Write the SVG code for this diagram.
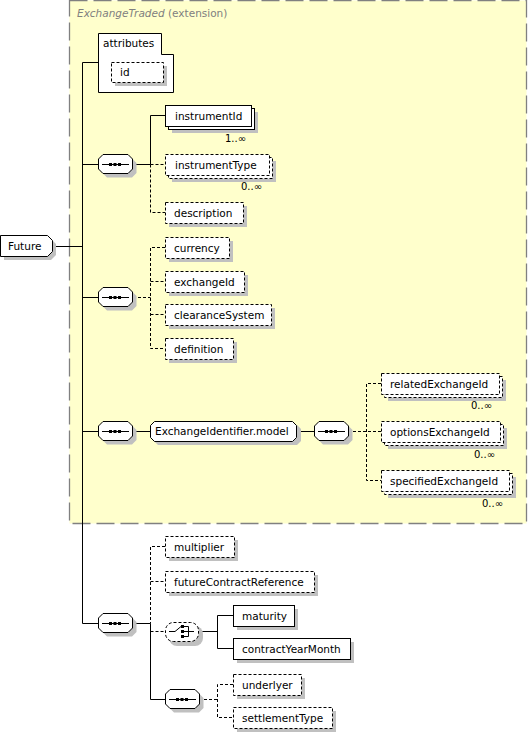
<svg xmlns="http://www.w3.org/2000/svg" width="528" height="733" viewBox="0 0 528 733">
<style>
.bg{fill:#ffffcc;stroke:#808080;stroke-width:1.3;stroke-dasharray:18,6}
.el{fill:#fff;stroke:#000;stroke-width:1}
.o{stroke-dasharray:3,2}
.sh{fill:#c0c0c0;stroke:none}
.t{font-family:"DejaVu Sans",Verdana,sans-serif;font-size:10.5px;fill:#000}
.k{font-family:"DejaVu Sans",Verdana,sans-serif;font-size:10px;fill:#000}
.ti{font-family:"DejaVu Sans",Verdana,sans-serif;font-size:10.5px;fill:#808080}
.c{stroke:#000;stroke-width:1;fill:none}
.d{stroke-dasharray:3,2}
.ic{stroke:#000;stroke-width:1;fill:none}
.sq{fill:#000}
</style>
<defs>
<g id="seqicon">
<line class="ic" x1="4" y1="10.5" x2="31" y2="10.5"/>
<rect class="sq" x="11" y="9" width="3" height="3"/>
<rect class="sq" x="15.5" y="9" width="3" height="3"/>
<rect class="sq" x="20" y="9" width="3" height="3"/>
</g>
<path id="oct" d="M5,0.5 H30 L34.5,5 V15 L30,19.5 H5 L0.5,15 V5 Z"/>
</defs>

<g id="extension">
<rect class="bg" x="69.5" y="0.5" width="457" height="523"/>
<text class="ti" x="77" y="17"><tspan font-style="italic">ExchangeTraded</tspan> (extension)</text>
</g>

<g id="connectors">
<polyline class="c" points="98,62.5 82.5,62.5 82.5,623.5 98,623.5"/>
<line class="c" x1="52" y1="246.5" x2="82.5" y2="246.5"/>
<line class="c" x1="82.5" y1="164.5" x2="98" y2="164.5"/>
<line class="c" x1="82.5" y1="297.5" x2="98" y2="297.5"/>
<line class="c" x1="82.5" y1="431.5" x2="98" y2="431.5"/>
<line class="c" x1="133" y1="164.5" x2="150.5" y2="164.5"/>
<polyline class="c" points="165,115.5 150.5,115.5 150.5,164.5"/>
<polyline class="c d" points="150.5,164.5 150.5,212.5 165,212.5"/>
<line class="c d" x1="150.5" y1="164.5" x2="165" y2="164.5"/>
<line class="c d" x1="133" y1="297.5" x2="150.5" y2="297.5"/>
<polyline class="c d" points="165,247.5 150.5,247.5 150.5,348.5 165,348.5"/>
<line class="c d" x1="150.5" y1="281.5" x2="165" y2="281.5"/>
<line class="c d" x1="150.5" y1="314.5" x2="165" y2="314.5"/>
<line class="c" x1="133" y1="431.5" x2="150" y2="431.5"/>
<line class="c" x1="297" y1="431.5" x2="314" y2="431.5"/>
<line class="c d" x1="348" y1="431.5" x2="381" y2="431.5"/>
<polyline class="c d" points="381,383.5 366.5,383.5 366.5,480.5 381,480.5"/>
<line class="c" x1="133" y1="623.5" x2="150.5" y2="623.5"/>
<polyline class="c d" points="165,546.5 150.5,546.5 150.5,623.5"/>
<line class="c d" x1="150.5" y1="581.5" x2="165" y2="581.5"/>
<polyline class="c" points="150.5,623.5 150.5,699.5 165,699.5"/>
<line class="c d" x1="150.5" y1="631.5" x2="165" y2="631.5"/>
<line class="c" x1="199" y1="631.5" x2="217.5" y2="631.5"/>
<polyline class="c" points="233,615.5 217.5,615.5 217.5,648.5 233,648.5"/>
<line class="c d" x1="199" y1="699.5" x2="217.5" y2="699.5"/>
<polyline class="c d" points="233,684.5 217.5,684.5 217.5,717.5 233,717.5"/>
</g>

<g id="Future">
<path class="sh" d="M4,239 H51 L56,244 V255 L51,260 H4 Z"/>
<path class="el" d="M0.5,235.5 H47.5 L52.5,240.5 V251.5 L47.5,256.5 H0.5 Z"/>
<text class="t" x="8" y="250">Future</text>
</g>

<g id="attributes">
<path class="el" d="M98.5,33.5 H161.5 V54.5 H173.5 V92.5 H98.5 Z"/>
<text class="t" x="103" y="47">attributes</text>
</g>
<g id="id">
<rect class="sh" x="115" y="66" width="52" height="20"/>
<rect class="el o" x="111.5" y="62.5" width="52" height="20"/>
<text class="t" x="120" y="76">id</text>
</g>

<g id="seq1">
<use href="#oct" class="sh" x="102" y="158"/>
<use href="#oct" class="el" x="98" y="154"/>
<use href="#seqicon" x="98" y="154"/>
</g>
<g id="instrumentId">
<rect class="sh" x="172" y="112" width="86" height="21"/>
<rect class="el" x="168.5" y="108.5" width="86" height="21"/>
<rect class="el" x="165.5" y="105.5" width="86" height="21"/>
<text class="t" x="175" y="120">instrumentId</text>
<text class="k" x="246" y="142" text-anchor="end">1..∞</text>
</g>
<g id="instrumentType">
<rect class="sh" x="172" y="161" width="104" height="21"/>
<rect class="el o" x="168.5" y="157.5" width="104" height="21"/>
<rect class="el o" x="165.5" y="154.5" width="104" height="21"/>
<text class="t" x="175" y="169">instrumentType</text>
<text class="k" x="262" y="190" text-anchor="end">0..∞</text>
</g>
<g id="description">
<rect class="sh" x="169" y="206" width="78" height="21"/>
<rect class="el o" x="165.5" y="202.5" width="78" height="21"/>
<text class="t" x="174" y="217">description</text>
</g>

<g id="seq2">
<use href="#oct" class="sh" x="102" y="291"/>
<use href="#oct" class="el" x="98" y="287"/>
<use href="#seqicon" x="98" y="287"/>
</g>
<g id="currency">
<rect class="sh" x="169" y="241" width="64" height="21"/>
<rect class="el o" x="165.5" y="237.5" width="64" height="21"/>
<text class="t" x="174" y="252">currency</text>
</g>
<g id="exchangeId">
<rect class="sh" x="169" y="275" width="79" height="21"/>
<rect class="el o" x="165.5" y="271.5" width="79" height="21"/>
<text class="t" x="174" y="286">exchangeId</text>
</g>
<g id="clearanceSystem">
<rect class="sh" x="169" y="308" width="106" height="21"/>
<rect class="el o" x="165.5" y="304.5" width="106" height="21"/>
<text class="t" x="174" y="319">clearanceSystem</text>
</g>
<g id="definition">
<rect class="sh" x="169" y="342" width="68" height="21"/>
<rect class="el o" x="165.5" y="338.5" width="68" height="21"/>
<text class="t" x="174" y="353">definition</text>
</g>

<g id="seq3">
<use href="#oct" class="sh" x="102" y="425"/>
<use href="#oct" class="el" x="98" y="421"/>
<use href="#seqicon" x="98" y="421"/>
</g>
<g id="ExchangeIdentifier.model">
<path class="sh" d="M158,425 H297 L301,429 V441 L297,445 H158 L154,441 V429 Z"/>
<path class="el" d="M154.5,421.5 H292.5 L296.5,425.5 V437.5 L292.5,441.5 H154.5 L150.5,437.5 V425.5 Z"/>
<text class="t" x="155" y="435">ExchangeIdentifier.model</text>
</g>
<g id="seq3b">
<use href="#oct" class="sh" x="318" y="425"/>
<use href="#oct" class="el" x="314" y="421"/>
<use href="#seqicon" x="314" y="421"/>
</g>
<g id="relatedExchangeId">
<rect class="sh" x="388" y="380" width="118" height="21"/>
<rect class="el o" x="384.5" y="376.5" width="118" height="21"/>
<rect class="el o" x="381.5" y="373.5" width="118" height="21"/>
<text class="t" x="390" y="388">relatedExchangeId</text>
<text class="k" x="492" y="409" text-anchor="end">0..∞</text>
</g>
<g id="optionsExchangeId">
<rect class="sh" x="388" y="428" width="119" height="21"/>
<rect class="el o" x="384.5" y="424.5" width="119" height="21"/>
<rect class="el o" x="381.5" y="421.5" width="119" height="21"/>
<text class="t" x="390" y="436">optionsExchangeId</text>
<text class="k" x="495" y="458" text-anchor="end">0..∞</text>
</g>
<g id="specifiedExchangeId">
<rect class="sh" x="388" y="477" width="128" height="21"/>
<rect class="el o" x="384.5" y="473.5" width="128" height="21"/>
<rect class="el o" x="381.5" y="470.5" width="128" height="21"/>
<text class="t" x="390" y="485">specifiedExchangeId</text>
<text class="k" x="503" y="507" text-anchor="end">0..∞</text>
</g>

<g id="seq4">
<use href="#oct" class="sh" x="102" y="617"/>
<use href="#oct" class="el" x="98" y="613"/>
<use href="#seqicon" x="98" y="613"/>
</g>
<g id="multiplier">
<rect class="sh" x="169" y="540" width="69" height="21"/>
<rect class="el o" x="165.5" y="536.5" width="69" height="21"/>
<text class="t" x="174" y="551">multiplier</text>
</g>
<g id="futureContractReference">
<rect class="sh" x="169" y="575" width="149" height="21"/>
<rect class="el o" x="165.5" y="571.5" width="149" height="21"/>
<text class="t" x="174" y="586">futureContractReference</text>
</g>
<g id="choice">
<rect class="sh" x="169" y="626" width="34" height="20" rx="8"/>
<rect class="el o" x="165.5" y="622.5" width="33" height="19" rx="8"/>
<polyline class="ic" points="169,631.5 175,631.5 181,626.5"/>
<rect class="sq" x="181" y="625" width="3" height="3"/>
<rect class="sq" x="181" y="630" width="3" height="3"/>
<rect class="sq" x="181" y="635" width="3" height="3"/>
<polyline class="ic" points="184,626.5 188.5,626.5 188.5,636.5 184,636.5"/>
<line class="ic" x1="184" y1="631.5" x2="194" y2="631.5"/>
</g>
<g id="maturity">
<rect class="sh" x="237" y="609" width="61" height="21"/>
<rect class="el" x="233.5" y="605.5" width="61" height="21"/>
<text class="t" x="242" y="620">maturity</text>
</g>
<g id="contractYearMonth">
<rect class="sh" x="237" y="642" width="117" height="21"/>
<rect class="el" x="233.5" y="638.5" width="117" height="21"/>
<text class="t" x="242" y="653">contractYearMonth</text>
</g>
<g id="seq5">
<use href="#oct" class="sh" x="169" y="693"/>
<use href="#oct" class="el" x="165" y="689"/>
<use href="#seqicon" x="165" y="689"/>
</g>
<g id="underlyer">
<rect class="sh" x="237" y="678" width="68" height="21"/>
<rect class="el o" x="233.5" y="674.5" width="68" height="21"/>
<text class="t" x="242" y="689">underlyer</text>
</g>
<g id="settlementType">
<rect class="sh" x="237" y="711" width="99" height="21"/>
<rect class="el o" x="233.5" y="707.5" width="99" height="21"/>
<text class="t" x="242" y="722">settlementType</text>
</g>
</svg>
